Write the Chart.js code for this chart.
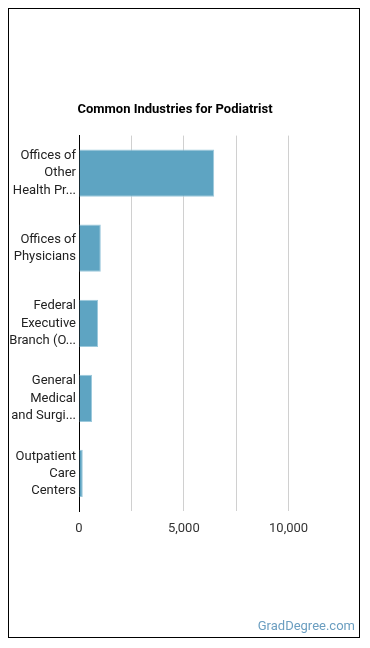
<!DOCTYPE html>
<html>
<head>
<meta charset="utf-8">
<script src="https://cdn.jsdelivr.net/npm/chart.js@4/dist/chart.umd.min.js"></script>
<style>
	body { margin: 0; background: #fff; font-family: Roboto, sans-serif; }
	#box { position: absolute; left: 8px; top: 8px; width: 352px; height: 630px; box-sizing: border-box; border: 1px solid #000; }
	#wrap { position: absolute; left: 0; top: 0; width: 350px; height: 628px; }
	#fonte { position: absolute; right: 4px; bottom: 4px; font-size: 13px; color: #6b9ec0; }
</style>
</head>
<body>
<div id="box">
	<div id="wrap"><canvas id="grafico"></canvas></div>
	<div id="fonte">GradDegree.com</div>
</div>
<script>
const categorias = [
	['Offices of', 'Other', 'Health Pr...'],
	['Offices of', 'Physicians'],
	['Federal', 'Executive', 'Branch (O...'],
	['General', 'Medical', 'and Surgi...'],
	['Outpatient', 'Care', 'Centers']
];
const valores = [6450, 1040, 910, 620, 180];
const marcasX = [0, 5000, 10000];

const ctx = document.getElementById('grafico').getContext('2d');
const chart = new Chart(ctx, {
	type: 'bar',
	data: {
		labels: categorias,
		datasets: [{
			label: 'Empregos',
			data: valores,
			backgroundColor: '#5ea4c2',
			borderColor: '#9cc9dc',
			borderWidth: 1,
			barPercentage: 0.7,
			categoryPercentage: 0.9
		}]
	},
	options: {
		indexAxis: 'y',
		responsive: true,
		maintainAspectRatio: false,
		animation: false,
		layout: { padding: { top: 93, right: 18, bottom: 86, left: 0 } },
		plugins: {
			legend: { display: false },
			tooltip: { enabled: false },
			title: {
				display: true,
				text: 'Common Industries for Podiatrist',
				color: '#000',
				font: { family: 'Roboto', size: 13, weight: 'bold' },
				padding: { top: 0, bottom: 18 }
			}
		},
		scales: {
			x: {
				min: 0,
				max: 12500,
				ticks: {
					stepSize: 2500,
					padding: 10,
					color: '#333',
					font: { family: 'Roboto', size: 13 },
					callback: v => marcasX.includes(v) ? v.toLocaleString('en-US') : ''
				},
				grid: {
					drawTicks: false,
					color: ctx => (ctx.tick && ctx.tick.value > 0 && ctx.tick.value < 12500) ? '#d0d0d0' : 'rgba(0,0,0,0)'
				},
				border: { display: false },
				afterFit: s => { s.height = 40; }
			},
			y: {
				ticks: {
					padding: 3,
					color: '#222',
					font: { family: 'Roboto', size: 13, lineHeight: 1.32 }
				},
				grid: { display: false, drawTicks: false },
				border: { display: true, color: '#000', width: 1 },
				afterFit: s => { s.width = 70; }
			}
		}
	}
});
</script>
</body>
</html>
